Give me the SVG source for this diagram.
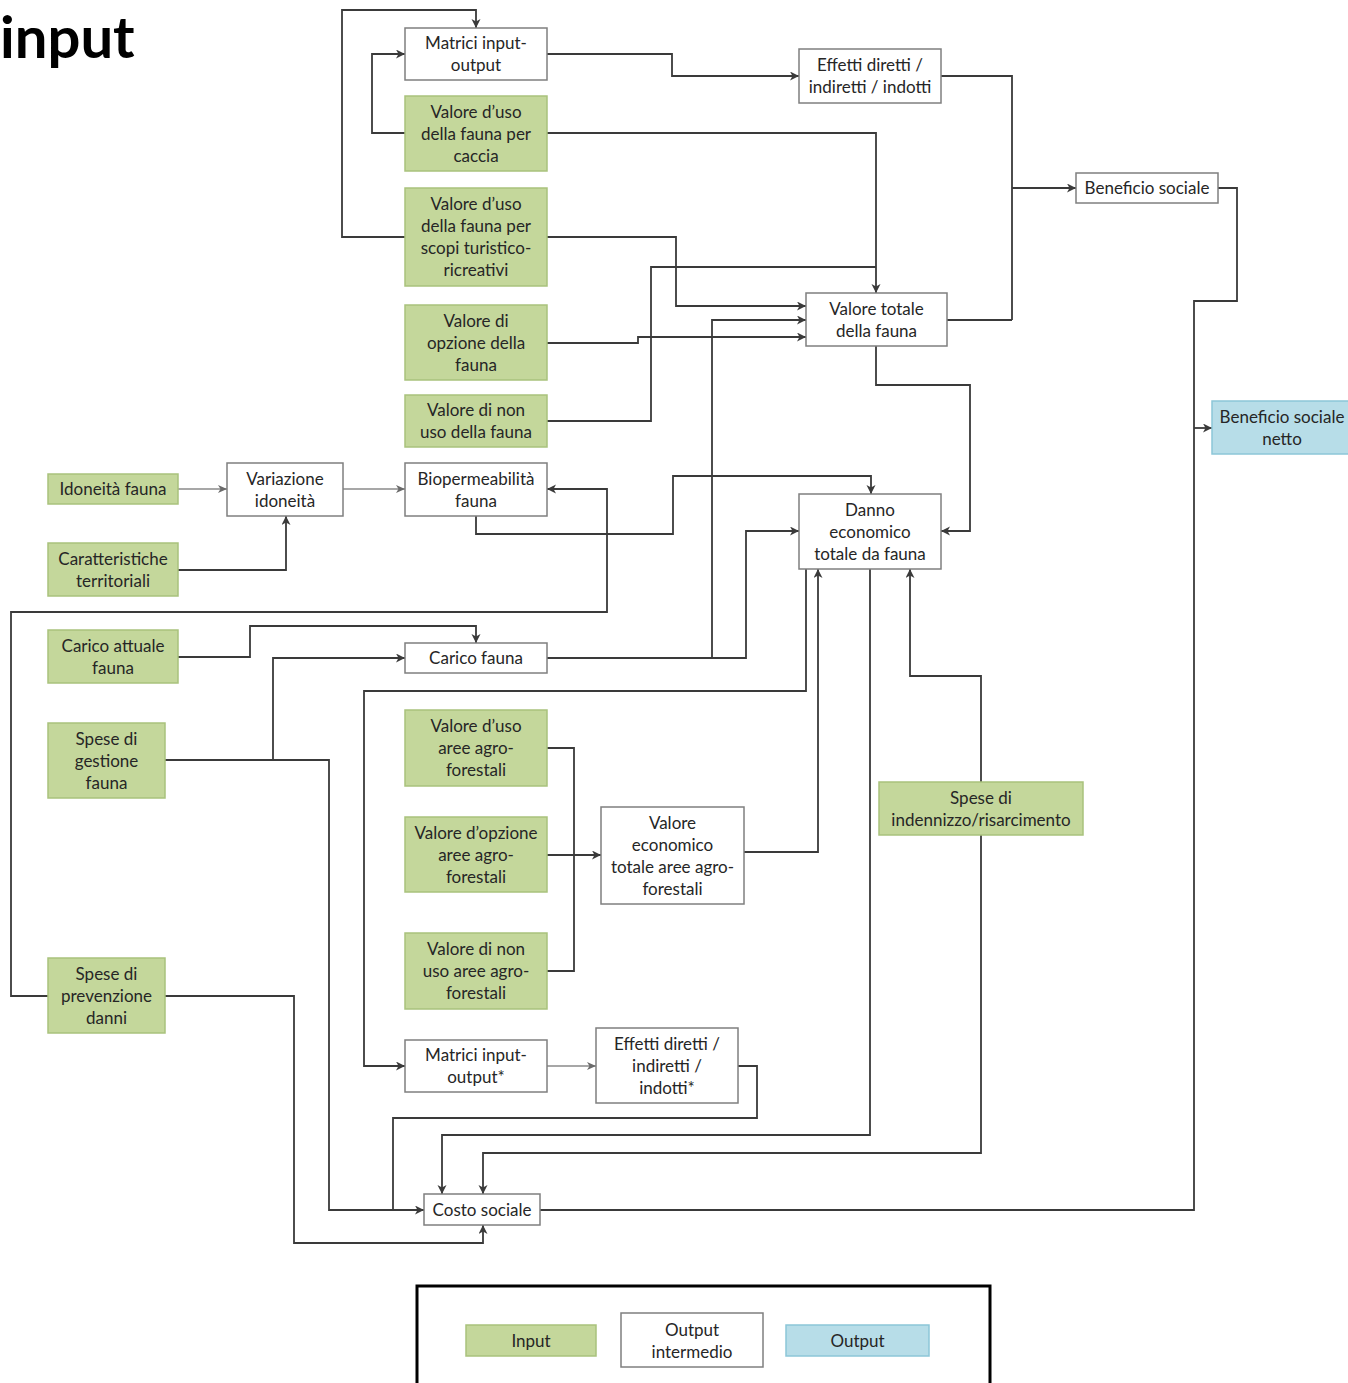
<svg xmlns="http://www.w3.org/2000/svg" width="1348" height="1383" viewBox="0 0 1348 1383">
  <style>
    .in rect { fill: #c4d79b; stroke: #a9c27c; stroke-width: 1.5; }
    .mid rect { fill: #ffffff; stroke: #7f7f7f; stroke-width: 1.5; }
    .out rect { fill: #b7dde8; stroke: #8cc6d8; stroke-width: 1.5; }
    text { font-family: Lato, "Liberation Sans", sans-serif; font-size: 17px; fill: #262626; text-anchor: middle; }
    .title { font-family: Lato, "Open Sans", sans-serif; font-size: 58px; font-weight: bold; fill: #000; text-anchor: start; }
    .wire path { fill: none; stroke: #3a3a3a; stroke-width: 1.8; stroke-linejoin: miter; }
    .wire path.thin { stroke: #8a8a8a; stroke-width: 1.3; }
    .wire path.arr { marker-end: url(#tip); }
    .wire path.thin.arr { marker-end: url(#tipThin); }
  </style>
  <defs>
    <marker id="tip" markerUnits="userSpaceOnUse" markerWidth="10" markerHeight="10" refX="9" refY="4.5" orient="auto">
      <path d="M0,0 L9,4.5 L0,9 L2.5,4.5 z" fill="#3a3a3a"/>
    </marker>
    <marker id="tipThin" markerUnits="userSpaceOnUse" markerWidth="10" markerHeight="10" refX="9" refY="4.5" orient="auto">
      <path d="M0,0.5 L9,4.5 L0,8.5 L2.5,4.5 z" fill="#6a6a6a"/>
    </marker>
  </defs>
  <rect width="1348" height="1383" fill="#ffffff"/>

  <text class="title" x="0" y="58">input</text>

  <!-- connectors -->
  <g id="connectors" class="wire">
    <path class="arr" d="M405,237 H342 V10 H476 V28"/>
    <path class="arr" d="M405,133 H372 V54 H405"/>
    <path class="arr" d="M547,54 H672 V76 H799"/>
    <path class="arr" d="M547,133 H876 V293"/>
    <path class="arr" d="M547,237 H676 V306 H806"/>
    <path d="M547,421 H651 V267 H876"/>
    <path class="arr" d="M547,343 H638 V337 H806"/>
    <path class="arr" d="M547,658 H746 V531 H799"/>
    <path class="arr" d="M712,658 V320 H806"/>
    <path d="M947,320 H1012"/>
    <path d="M941,76 H1012 V320"/>
    <path class="arr" d="M1012,188 H1076"/>
    <path d="M1218,188 H1237 V301 H1194 V1210 H540"/>
    <path class="arr" d="M1194,428 H1212"/>
    <path class="arr" d="M876,346 V385 H970 V531 H941"/>
    <path class="thin arr" d="M178,489 H227"/>
    <path class="arr" d="M178,570 H286 V516"/>
    <path class="thin arr" d="M343,489 H405"/>
    <path class="arr" d="M476,516 V534 H673 V476 H871 V494"/>
    <path class="arr" d="M48,996 H11 V612 H607 V489 H547"/>
    <path class="arr" d="M165,996 H294 V1243 H483 V1225"/>
    <path class="arr" d="M178,657 H250 V626 H476 V643"/>
    <path class="arr" d="M165,760 H329 V1210 H424"/>
    <path class="arr" d="M273,760 V658 H405"/>
    <path class="arr" d="M806,569 V691 H364 V1066 H405"/>
    <path class="arr" d="M744,852 H818 V569"/>
    <path class="arr" d="M870,569 V1135 H442 V1194"/>
    <path class="arr" d="M981,782 V676 H910 V569"/>
    <path class="arr" d="M981,835 V1153 H483 V1194"/>
    <path d="M547,748 H574 V971 H547"/>
    <path class="arr" d="M547,855 H601"/>
    <path class="thin arr" d="M547,1066 H596"/>
    <path d="M738,1066 H757 V1118 H393 V1210"/>
  </g>

  <!-- nodes -->
  <g id="matrici-io" class="mid">
    <rect x="405" y="28" width="142" height="52"/>
    <text x="476" y="49">Matrici input-</text>
    <text x="476" y="71">output</text>
  </g>
  <g id="uso-caccia" class="in">
    <rect x="405" y="96" width="142" height="75"/>
    <text x="476" y="117.5">Valore d’uso</text>
    <text x="476" y="139.5">della fauna per</text>
    <text x="476" y="161.5">caccia</text>
  </g>
  <g id="uso-turistico" class="in">
    <rect x="405" y="188" width="142" height="98"/>
    <text x="476" y="210">Valore d’uso</text>
    <text x="476" y="232">della fauna per</text>
    <text x="476" y="254">scopi turistico-</text>
    <text x="476" y="276">ricreativi</text>
  </g>
  <g id="opzione-fauna" class="in">
    <rect x="405" y="305" width="142" height="75"/>
    <text x="476" y="326.5">Valore di</text>
    <text x="476" y="348.5">opzione della</text>
    <text x="476" y="370.5">fauna</text>
  </g>
  <g id="non-uso-fauna" class="in">
    <rect x="405" y="395" width="142" height="52"/>
    <text x="476" y="416">Valore di non</text>
    <text x="476" y="438">uso della fauna</text>
  </g>
  <g id="effetti" class="mid">
    <rect x="799" y="49" width="142" height="54"/>
    <text x="870" y="71">Effetti diretti /</text>
    <text x="870" y="93">indiretti / indotti</text>
  </g>
  <g id="beneficio" class="mid">
    <rect x="1076" y="173" width="142" height="30"/>
    <text x="1147" y="194">Beneficio sociale</text>
  </g>
  <g id="valore-totale" class="mid">
    <rect x="806" y="293" width="141" height="53"/>
    <text x="876.5" y="314.5">Valore totale</text>
    <text x="876.5" y="336.5">della fauna</text>
  </g>
  <g id="beneficio-netto" class="out">
    <rect x="1212" y="401" width="140" height="53"/>
    <text x="1282" y="422.5">Beneficio sociale</text>
    <text x="1282" y="444.5">netto</text>
  </g>
  <g id="idoneita" class="in">
    <rect x="48" y="474" width="130" height="30"/>
    <text x="113" y="495">Idoneità fauna</text>
  </g>
  <g id="variazione" class="mid">
    <rect x="227" y="463" width="116" height="53"/>
    <text x="285" y="484.5">Variazione</text>
    <text x="285" y="506.5">idoneità</text>
  </g>
  <g id="biopermeabilita" class="mid">
    <rect x="405" y="463" width="142" height="53"/>
    <text x="476" y="484.5">Biopermeabilità</text>
    <text x="476" y="506.5">fauna</text>
  </g>
  <g id="caratteristiche" class="in">
    <rect x="48" y="543" width="130" height="53"/>
    <text x="113" y="564.5">Caratteristiche</text>
    <text x="113" y="586.5">territoriali</text>
  </g>
  <g id="danno" class="mid">
    <rect x="799" y="494" width="142" height="75"/>
    <text x="870" y="515.5">Danno</text>
    <text x="870" y="537.5">economico</text>
    <text x="870" y="559.5">totale da fauna</text>
  </g>
  <g id="carico-attuale" class="in">
    <rect x="48" y="630" width="130" height="53"/>
    <text x="113" y="651.5">Carico attuale</text>
    <text x="113" y="673.5">fauna</text>
  </g>
  <g id="carico" class="mid">
    <rect x="405" y="643" width="142" height="30"/>
    <text x="476" y="664">Carico fauna</text>
  </g>
  <g id="spese-gestione" class="in">
    <rect x="48" y="723" width="117" height="75"/>
    <text x="106.5" y="744.5">Spese di</text>
    <text x="106.5" y="766.5">gestione</text>
    <text x="106.5" y="788.5">fauna</text>
  </g>
  <g id="uso-agro" class="in">
    <rect x="405" y="710" width="142" height="76"/>
    <text x="476" y="732">Valore d’uso</text>
    <text x="476" y="754">aree agro-</text>
    <text x="476" y="776">forestali</text>
  </g>
  <g id="opzione-agro" class="in">
    <rect x="405" y="817" width="142" height="75"/>
    <text x="476" y="838.5">Valore d’opzione</text>
    <text x="476" y="860.5">aree agro-</text>
    <text x="476" y="882.5">forestali</text>
  </g>
  <g id="non-uso-agro" class="in">
    <rect x="405" y="933" width="142" height="76"/>
    <text x="476" y="955">Valore di non</text>
    <text x="476" y="977">uso aree agro-</text>
    <text x="476" y="999">forestali</text>
  </g>
  <g id="valore-agro" class="mid">
    <rect x="601" y="807" width="143" height="97"/>
    <text x="672.5" y="828.5">Valore</text>
    <text x="672.5" y="850.5">economico</text>
    <text x="672.5" y="872.5">totale aree agro-</text>
    <text x="672.5" y="894.5">forestali</text>
  </g>
  <g id="spese-indennizzo" class="in">
    <rect x="879" y="782" width="204" height="53"/>
    <text x="981" y="803.5">Spese di</text>
    <text x="981" y="825.5">indennizzo/risarcimento</text>
  </g>
  <g id="spese-prevenzione" class="in">
    <rect x="48" y="958" width="117" height="75"/>
    <text x="106.5" y="979.5">Spese di</text>
    <text x="106.5" y="1001.5">prevenzione</text>
    <text x="106.5" y="1023.5">danni</text>
  </g>
  <g id="matrici-io-star" class="mid">
    <rect x="405" y="1040" width="142" height="52"/>
    <text x="476" y="1061">Matrici input-</text>
    <text x="476" y="1083">output*</text>
  </g>
  <g id="effetti-star" class="mid">
    <rect x="596" y="1028" width="142" height="75"/>
    <text x="667" y="1049.5">Effetti diretti /</text>
    <text x="667" y="1071.5">indiretti /</text>
    <text x="667" y="1093.5">indotti*</text>
  </g>
  <g id="costo" class="mid">
    <rect x="424" y="1194" width="116" height="31"/>
    <text x="482" y="1215.5">Costo sociale</text>
  </g>

  <!-- legend -->
  <g id="legend">
    <rect x="417" y="1286" width="573" height="110" fill="#ffffff" stroke="#000000" stroke-width="3"/>
    <g class="in">
      <rect x="466" y="1325" width="130" height="31"/>
      <text x="531" y="1346.5">Input</text>
    </g>
    <g class="mid">
      <rect x="621" y="1313" width="142" height="54"/>
      <text x="692" y="1335.5">Output</text>
      <text x="692" y="1357.5">intermedio</text>
    </g>
    <g class="out">
      <rect x="786" y="1325" width="143" height="31"/>
      <text x="857.5" y="1346.5">Output</text>
    </g>
  </g>
</svg>
